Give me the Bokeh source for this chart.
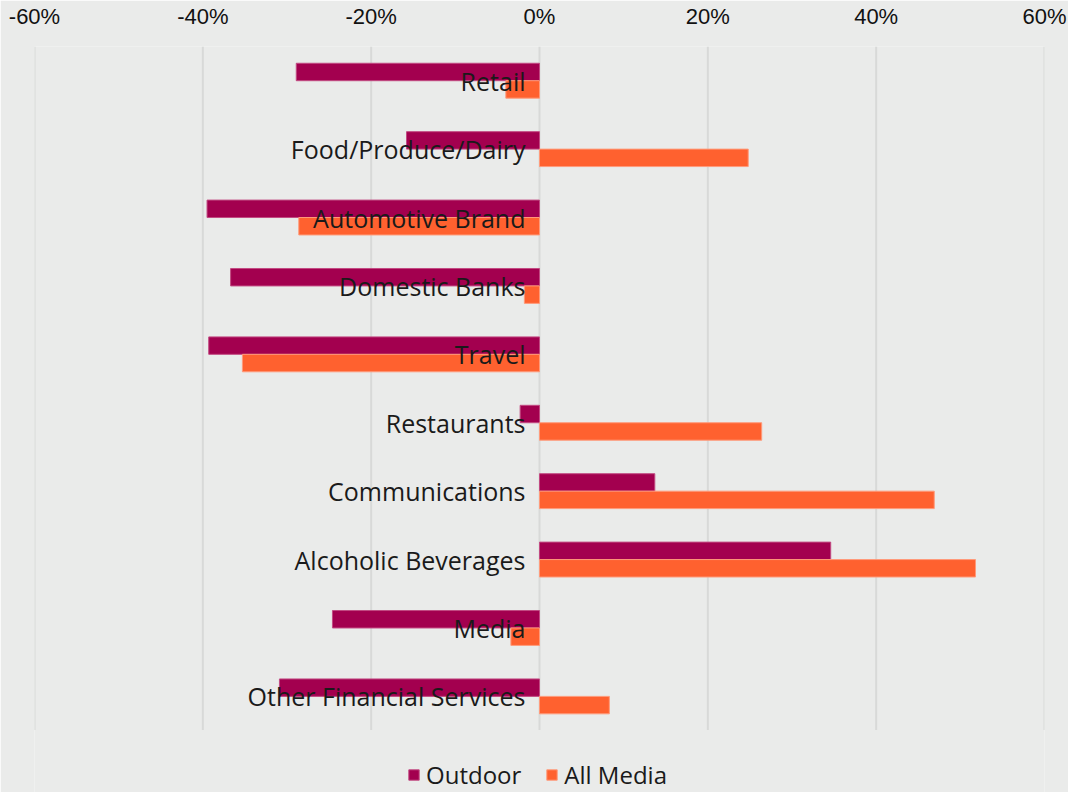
from bokeh.plotting import figure
from bokeh.models import FixedTicker, PrintfTickFormatter, ColumnDataSource, Range1d, Legend, LegendItem
from bokeh.core.properties import value
from bokeh.embed import file_html
from bokeh.resources import INLINE

categories = ["Retail", "Food/Produce/Dairy", "Automotive Brand", "Domestic Banks", "Travel",
              "Restaurants", "Communications", "Alcoholic Beverages", "Media", "Other Financial Services"]
outdoor = [-28.9, -15.8, -39.5, -36.7, -39.3, -2.3, 13.7, 34.6, -24.6, -30.9]
all_media = [-4.0, 24.8, -28.6, -1.8, -35.3, 26.4, 46.9, 51.8, -3.4, 8.3]
ticks = [-60, -40, -20, 0, 20, 40, 60]

BG = "#EAEBEA"
OUT_C = "#A3004F"
MED_C = "#FF612F"

n = len(categories)
ypos = [n - 1 - i for i in range(n)]  # first category at the top
BAR_H = 0.255
src = ColumnDataSource(dict(cat=categories, outdoor=outdoor, media=all_media,
                            y=ypos,
                            y_out=[v + BAR_H / 2 for v in ypos],
                            y_med=[v - BAR_H / 2 for v in ypos],
                            zero=[0] * n))

p = figure(width=1068, height=792, output_backend="svg", toolbar_location=None,
           y_range=Range1d(-1.405, n - 0.5), x_range=Range1d(-60, 60), x_axis_location="above",
           min_border_left=34, min_border_right=24, min_border_top=45, min_border_bottom=0)
p.background_fill_color = BG
p.border_fill_color = BG
p.outline_line_color = None

# vertical grid lines spanning only the category area
p.segment(x0=ticks, y0=[-0.49] * len(ticks), x1=ticks, y1=[n - 0.5] * len(ticks),
          line_color="#D8D9D8", line_width=2, level="underlay")

r1 = p.hbar(y="y_out", left=0, right="outdoor", height=BAR_H,
            fill_color=OUT_C, line_color="#C24A82", line_width=1, source=src)
r2 = p.hbar(y="y_med", left=0, right="media", height=BAR_H,
            fill_color=MED_C, line_color="#FF9A7A", line_width=1, source=src)

p.text(x="zero", y="y", text="cat", source=src, x_offset=-14, y_offset=0,
       text_align="right", text_baseline="middle", text_font=value("Open Sans"),
       text_font_size="25px", text_color="#1a1a1a")

xa = p.xaxis[0]
xa.ticker = FixedTicker(ticks=ticks)
xa.formatter = PrintfTickFormatter(format="%d%%")
xa.axis_line_color = None
xa.major_tick_line_color = None
xa.minor_tick_line_color = None
xa.major_label_text_font = "Liberation Sans"
xa.major_label_text_font_size = "22px"
xa.major_label_text_color = "#111111"
xa.major_label_standoff = 12

p.yaxis.visible = False
p.xgrid.grid_line_color = None
p.ygrid.grid_line_color = None

leg = Legend(items=[LegendItem(label="Outdoor", renderers=[r1]),
                    LegendItem(label="All Media", renderers=[r2])],
             orientation="horizontal", location=(373, 1))
leg.background_fill_alpha = 0
leg.border_line_color = None
leg.glyph_width = 13
leg.glyph_height = 13
leg.label_text_font = "Open Sans"
leg.label_text_font_size = "24px"
leg.label_text_color = "#1a1a1a"
leg.label_standoff = 6
leg.spacing = 24
leg.padding = 0
leg.margin = 0
leg.label_height = 20
p.add_layout(leg, "center")

open("out.html", "w").write(file_html(p, INLINE))
